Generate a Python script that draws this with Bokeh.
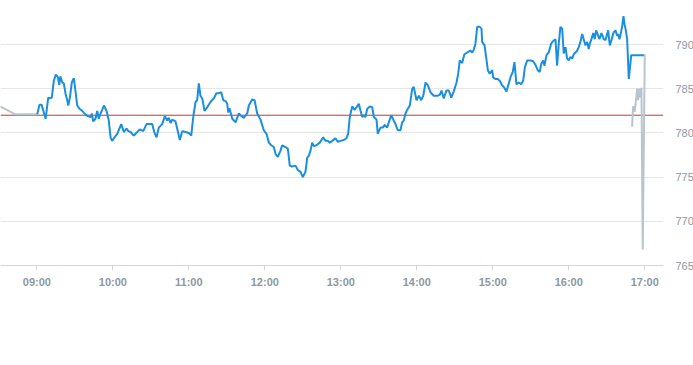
import pandas as pd
from bokeh.plotting import figure
from bokeh.models import Span, FixedTicker, DatetimeTickFormatter, Range1d, ColumnDataSource
from bokeh.embed import file_html
from bokeh.resources import INLINE

session_date = "2017-01-05"
hour_ticks = ["09:00", "10:00", "11:00", "12:00", "13:00", "14:00", "15:00", "16:00", "17:00"]
price_ticks = [765, 770, 775, 780, 785, 790]
reference_price = 782.0

# minutes after 09:00
pre_minutes = [-29.0, -17.0, 0.3]
pre_prices = [783.0, 782.1, 782.1]

main_minutes = [
    0.3, 2.1, 3.7, 5.1, 6.9, 9.0, 10.3, 11.8, 13.4, 15.0,
    16.6, 17.7, 18.5, 20.1, 21.3, 22.7, 24.0, 24.8, 26.1, 27.6,
    29.2, 30.6, 31.9, 33.9, 35.8, 38.4, 40.3, 42.4, 43.4, 44.5,
    46.3, 47.7, 48.9, 50.3, 51.6, 52.9, 55.0, 56.8, 58.2, 59.5,
    61.3, 63.5, 66.6, 68.7, 70.8, 72.2, 74.0, 76.6, 79.3, 81.3,
    84.0, 86.6, 88.4, 91.1, 92.9, 94.5, 96.3, 99.0, 101.1, 102.9,
    104.2, 105.6, 106.9, 109.5, 110.8, 112.9, 114.8, 117.4, 120.0, 121.9,
    123.5, 125.3, 126.6, 127.9, 129.2, 130.6, 132.4, 134.5, 137.1, 139.7,
    141.9, 143.7, 145.6, 147.2, 149.0, 150.3, 151.1, 152.1, 154.3, 156.9,
    159.5, 160.8, 163.4, 166.1, 167.4, 170.1, 171.9, 174.0, 176.6, 179.2,
    181.3, 183.2, 185.1, 187.1, 188.5, 190.3, 192.4, 193.7, 196.3, 198.2,
    199.7, 201.6, 204.2, 206.1, 208.2, 210.0, 212.1, 213.5, 214.7, 216.1,
    217.4, 218.7, 220.8, 223.4, 226.1, 227.9, 229.7, 231.3, 233.2, 235.8,
    237.6, 239.8, 242.4, 244.5, 245.8, 247.1, 249.0, 250.8, 252.9, 254.2,
    255.6, 256.9, 258.2, 259.5, 260.8, 262.9, 264.8, 266.1, 268.2, 269.2,
    271.3, 273.2, 274.7, 276.6, 277.9, 279.8, 281.8, 283.2, 285.0, 287.1,
    288.5, 289.7, 291.1, 292.4, 294.5, 296.4, 297.6, 299.8, 301.6, 303.5,
    305.1, 306.9, 308.7, 310.8, 313.4, 316.1, 318.2, 319.5, 321.3, 323.4,
    325.3, 327.2, 329.2, 331.4, 332.7, 333.9, 335.8, 337.6, 339.8, 342.4,
    343.7, 345.0, 346.3, 347.7, 349.7, 351.1, 351.6, 353.5, 355.1, 356.1,
    357.6, 359.5, 360.3, 362.1, 363.9, 365.5, 367.4, 368.7, 370.8, 372.6,
    374.0, 375.8, 377.1, 378.7, 380.5, 382.4, 384.0, 385.3, 387.2, 389.8,
    391.9, 393.7, 395.5, 397.1, 398.2, 399.8, 400.8, 402.4, 404.2, 406.1,
    407.7, 409.5, 410.8, 412.1, 413.4, 414.8, 416.0, 417.4, 418.7, 420.0,
    421.3, 422.7, 423.9, 425.3, 426.6, 427.9, 429.2, 430.6, 431.8, 433.2,
    434.5, 435.8, 436.6, 437.9, 439.3, 440.5, 441.6, 443.2, 444.2, 445.8,
    447.6, 449.0, 450.3, 451.1, 452.4, 453.7, 455.5, 456.9, 458.2, 459.0,
    460.0, 461.0, 462.2, 463.2, 464.0, 464.8, 466.1, 467.4, 469.3, 480.0,
]
main_prices = [
    782.1, 783.2, 783.2, 782.5, 781.6, 784.0, 783.9, 784.0, 785.9, 786.6,
    786.3, 785.4, 786.4, 785.7, 785.6, 784.4, 783.7, 783.1, 784.0, 785.7,
    786.2, 784.6, 783.1, 782.7, 782.5, 782.1, 781.9, 781.8, 782.2, 781.3,
    781.6, 782.5, 781.6, 782.2, 782.6, 783.1, 782.5, 781.4, 779.5, 779.1,
    779.5, 779.9, 781.0, 780.1, 780.5, 780.2, 780.1, 779.7, 780.1, 780.4,
    780.2, 781.0, 781.0, 781.0, 780.0, 779.5, 780.6, 781.0, 781.9, 781.4,
    781.7, 781.1, 781.5, 781.3, 780.5, 779.2, 780.2, 780.1, 780.0, 779.7,
    781.8, 783.5, 783.7, 785.6, 784.2, 783.9, 782.5, 782.9, 783.5, 783.9,
    784.5, 784.5, 784.6, 783.7, 783.6, 783.3, 782.3, 782.8, 781.6, 781.2,
    782.2, 782.0, 781.7, 782.2, 783.1, 783.8, 783.7, 782.2, 781.5, 780.3,
    779.9, 778.9, 778.6, 778.4, 777.6, 777.3, 778.0, 778.6, 778.4, 778.2,
    776.3, 776.2, 776.3, 775.8, 775.6, 775.0, 775.6, 777.2, 777.4, 778.0,
    778.9, 778.5, 778.6, 778.9, 779.5, 779.1, 779.1, 778.9, 779.1, 779.4,
    779.0, 779.1, 779.2, 779.4, 779.9, 781.8, 783.0, 782.6, 783.0, 783.3,
    782.5, 781.8, 782.0, 781.8, 782.7, 783.0, 782.9, 781.8, 781.5, 779.9,
    780.6, 780.6, 780.9, 780.6, 781.2, 782.0, 781.4, 781.0, 780.3, 780.3,
    781.2, 781.4, 782.2, 782.6, 783.1, 785.0, 785.2, 783.7, 784.2, 783.7,
    784.2, 785.7, 785.4, 784.6, 784.2, 784.2, 784.3, 784.8, 783.9, 784.8,
    784.8, 784.0, 784.7, 785.7, 786.7, 788.2, 787.9, 788.9, 789.1, 789.3,
    789.1, 789.4, 790.1, 792.0, 792.0, 791.8, 790.3, 789.9, 788.2, 787.1,
    786.7, 787.1, 786.3, 786.1, 786.1, 785.9, 785.4, 785.2, 784.7, 785.6,
    786.3, 786.9, 788.0, 785.5, 785.7, 785.5, 785.9, 787.4, 788.2, 788.2,
    788.1, 787.7, 787.1, 786.9, 787.8, 788.2, 787.6, 788.8, 789.1, 790.1,
    790.4, 790.6, 787.6, 790.1, 792.0, 791.8, 789.0, 789.7, 788.4, 788.2,
    788.6, 788.4, 788.9, 789.1, 789.3, 789.7, 790.3, 791.2, 790.6, 789.9,
    790.3, 789.5, 790.1, 790.6, 791.3, 790.6, 791.6, 791.0, 790.6, 791.3,
    790.6, 790.5, 791.2, 791.6, 789.9, 790.5, 791.4, 791.6, 791.0, 791.2,
    790.6, 791.2, 792.1, 793.2, 792.3, 791.8, 790.6, 786.1, 788.8, 788.8,
]

post_minutes = [470.0, 470.8, 472.1, 473.2, 474.0, 474.8, 475.8, 476.6, 477.4, 478.4, 480.0]
post_prices = [780.7, 783.0, 782.4, 783.9, 785.0, 783.7, 785.0, 784.0, 785.1, 766.8, 788.9]

x_start_minutes = -28.7
x_end_minutes = 494.8
y_start, y_end = 765.0, 794.98

base = pd.Timestamp(session_date + " 09:00")


def to_dt(mins):
    return [base + pd.Timedelta(minutes=m) for m in mins]


label_font = "Liberation Sans"
label_color = "#8e98a4"

p = figure(
    frame_width=663, frame_height=265,
    x_axis_type="datetime", y_axis_location="right",
    x_range=Range1d(base + pd.Timedelta(minutes=x_start_minutes), base + pd.Timedelta(minutes=x_end_minutes)),
    y_range=Range1d(y_start, y_end),
    output_backend="svg", toolbar_location=None,
    min_border_left=0, min_border_top=0, min_border_right=0, min_border_bottom=10,
)
p.outline_line_color = None
p.background_fill_color = "white"
p.border_fill_color = "white"

p.xgrid.grid_line_color = None
p.ygrid.grid_line_color = "#e6e6e6"
p.ygrid.grid_line_width = 1

ref = Span(location=reference_price, dimension="width", line_color="#c8372d", line_width=1, level="underlay")
p.add_layout(ref)

pre_src = ColumnDataSource(dict(t=to_dt(pre_minutes), v=pre_prices))
main_src = ColumnDataSource(dict(t=to_dt(main_minutes), v=main_prices))
post_src = ColumnDataSource(dict(t=to_dt(post_minutes), v=post_prices))

p.line("t", "v", source=pre_src, line_color="#b8c5d0", line_width=2)
p.line("t", "v", source=main_src, line_color="#1b8fdf", line_width=2)
p.line("t", "v", source=post_src, line_color="#b8c5d0", line_width=2)

tick_ms = [pd.Timestamp(session_date + " " + h).value / 1e6 for h in hour_ticks]
xa = p.xaxis[0]
xa.ticker = FixedTicker(ticks=tick_ms)
xa.formatter = DatetimeTickFormatter(hours="%H:%M", hourmin="%H:%M", minutes="%H:%M",
                                     minsec="%H:%M", days="%H:%M")
xa.axis_line_color = "#ccd6eb"
xa.major_tick_line_color = "#ccd6eb"
xa.major_tick_out = 5
xa.major_tick_in = 0
xa.minor_tick_line_color = None
xa.major_label_standoff = 5
xa.major_label_text_font = label_font
xa.major_label_text_font_size = "11px"
xa.major_label_text_font_style = "bold"
xa.major_label_text_color = label_color

ya = p.yaxis[0]
ya.ticker = FixedTicker(ticks=price_ticks)
ya.axis_line_color = None
ya.major_tick_line_color = None
ya.minor_tick_line_color = None
ya.major_tick_out = 0
ya.major_tick_in = 0
ya.major_label_standoff = 12
ya.major_label_text_font = label_font
ya.major_label_text_font_size = "11px"
ya.major_label_text_color = label_color

open("out.html", "w").write(file_html(p, INLINE))
